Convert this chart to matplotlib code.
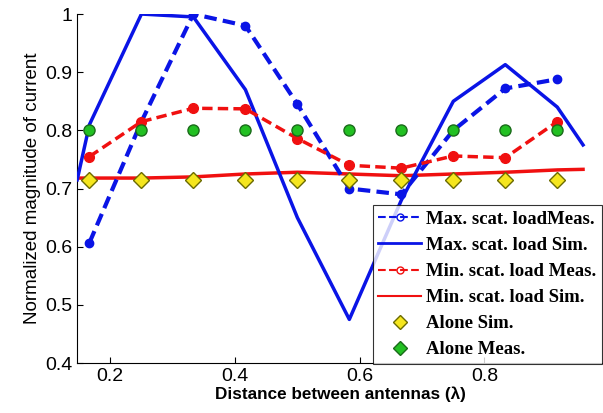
import matplotlib.pyplot as plt
from matplotlib.lines import Line2D

# measured positions (lambda)
x_meas = [0.1667, 0.25, 0.3333, 0.4167, 0.5, 0.5833, 0.6667, 0.75, 0.8333, 0.9167]
max_meas = [0.607, 0.815, 1.0, 0.98, 0.845, 0.70, 0.69, 0.80, 0.872, 0.888]
min_meas = [0.755, 0.815, 0.838, 0.837, 0.786, 0.740, 0.735, 0.756, 0.753, 0.815]
alone_sim = [0.714] * 10
alone_meas = [0.80] * 10

# simulated curves
x_sim = [0.147, 0.1667, 0.25, 0.3333, 0.4167, 0.5, 0.5833, 0.6667, 0.75, 0.8333, 0.9167, 0.958]
max_sim = [0.715, 0.81, 1.0, 0.995, 0.87, 0.65, 0.475, 0.68, 0.85, 0.913, 0.84, 0.775]
min_sim = [0.718, 0.718, 0.718, 0.72, 0.725, 0.728, 0.725, 0.722, 0.725, 0.728, 0.732, 0.733]

fig = plt.figure(figsize=(6.03, 4.13), dpi=100)
ax = fig.add_axes([0.128, 0.121, 0.872, 0.845])

ax.plot(x_meas, max_meas, '--o', color='#0a14e6', lw=3, ms=6, mfc='#0a14e6', dashes=(3, 1.5), zorder=3)
ax.plot(x_sim, max_sim, '-', color='#0a14e6', lw=2.5, zorder=3)
ax.plot(x_meas, min_meas, '--o', color='#f01010', lw=2.5, ms=7, mfc='#f01010', dashes=(3, 1.5), zorder=3)
ax.plot(x_sim, min_sim, '-', color='#f01010', lw=2.5, zorder=2)
ax.plot(x_meas, alone_sim, 'D', color='#f5e61e', mec='#6b6b00', ms=8, ls='none', zorder=4)
ax.plot(x_meas, alone_meas, 'o', color='#22c022', mec='#1a6b1a', ms=8, ls='none', zorder=4)

ax.set_xlim(0.147, 0.99)
ax.set_ylim(0.4, 1.0)
ax.set_xticks([0.2, 0.4, 0.6, 0.8])
ax.set_yticks([0.4, 0.5, 0.6, 0.7, 0.8, 0.9, 1.0])
ax.set_xticklabels(['0.2', '0.4', '0.6', '0.8'])
ax.set_yticklabels(['0.4', '0.5', '0.6', '0.7', '0.8', '0.9', '1'])
ax.tick_params(labelsize=14, direction='in', length=4)
for lab in ax.get_xticklabels() + ax.get_yticklabels():
    lab.set_family('Liberation Sans')
ax.spines['top'].set_visible(False)
ax.spines['right'].set_visible(False)

ax.set_xlabel('Distance between antennas (λ)', fontsize=12.3, fontweight='bold',
              family='Liberation Sans', labelpad=1)
ax.set_ylabel('Normalized magnitude of current', fontsize=13.5,
              family='Liberation Sans', labelpad=3)

handles = [
    Line2D([], [], color='#0a14e6', ls='--', marker='o', ms=5, mfc='none', lw=1.5),
    Line2D([], [], color='#0a14e6', ls='-', lw=2),
    Line2D([], [], color='#f01010', ls='--', marker='o', ms=5, mfc='none', lw=1.5),
    Line2D([], [], color='#f01010', ls='-', lw=1.5),
    Line2D([], [], color='#f5e61e', mec='#6b6b00', marker='D', ms=7, ls='none'),
    Line2D([], [], color='#22c022', mec='#1a6b1a', marker='D', ms=7, ls='none'),
]
labels = ['Max. scat. loadMeas.', 'Max. scat. load Sim.', 'Min. scat. load Meas.',
          'Min. scat. load Sim.', 'Alone Sim.', 'Alone Meas.']
leg = ax.legend(handles, labels, loc='lower left', bbox_to_anchor=(0.562, -0.003),
                prop={'family': 'Liberation Serif', 'weight': 'bold', 'size': 13.5},
                frameon=True, fancybox=False, edgecolor='black', handlelength=2.3,
                handletextpad=0.25, labelspacing=0.48, borderpad=0.3, borderaxespad=0)
leg.get_frame().set_linewidth(0.8)
leg.set_zorder(5)

fig.savefig('out.png', dpi=100)
